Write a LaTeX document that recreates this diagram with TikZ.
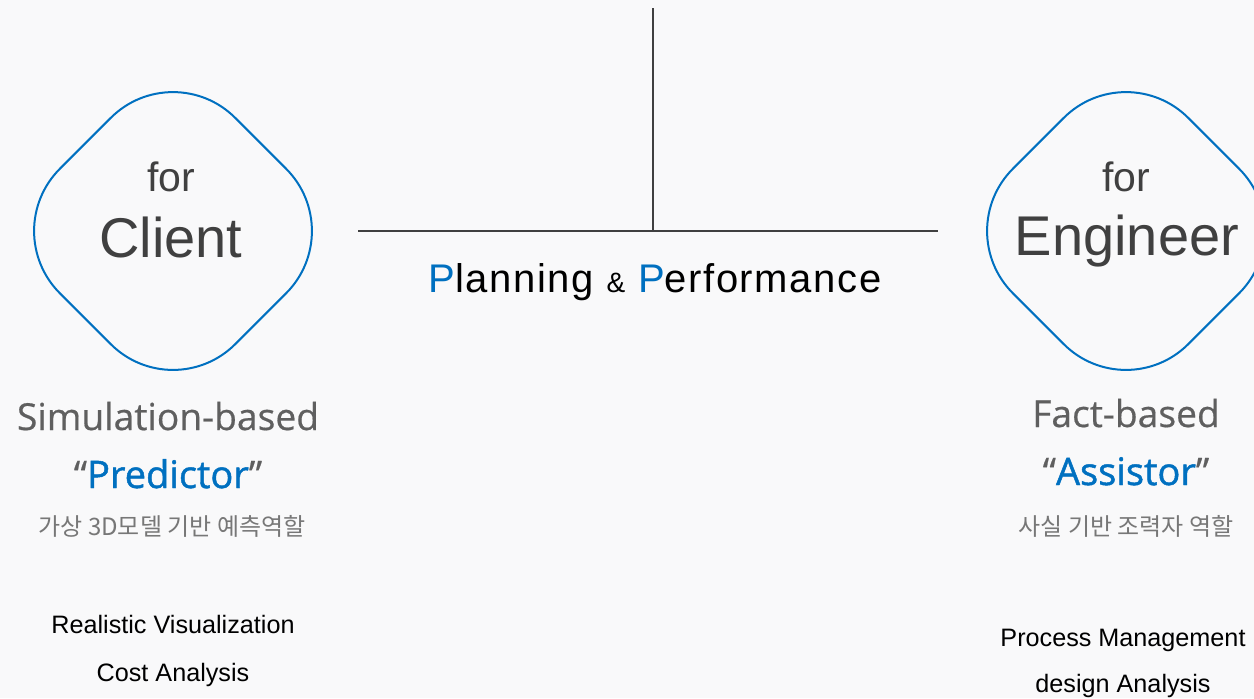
\documentclass[tikz,border=0pt]{standalone}
\usepackage{fontspec}
\setmainfont{Liberation Sans}
\newfontfamily\headfont[FakeBold=0.5]{Open Sans}
\newfontfamily\krfont{Noto Sans CJK KR}
\newfontfamily\spacedfont[LetterSpace=4]{Liberation Sans}
\usetikzlibrary{positioning}

\definecolor{ppblue}{HTML}{0070C0}
\definecolor{ppdark}{HTML}{404040}
\definecolor{ppgray}{HTML}{5F5F5F}
\definecolor{pplight}{HTML}{777777}
\definecolor{ppback}{HTML}{F9F9FA}

\tikzset{
  rolebox/.style={draw=ppblue, line width=1pt, rounded corners=44pt,
    minimum size=124pt, inner sep=0pt, rotate=45},
  txt/.style={inner sep=0pt, anchor=base},
  forlabel/.style={txt, text=ppdark, font=\fontsize{20.5}{24}\selectfont},
  rolelabel/.style={txt, text=ppdark, font=\fontsize{28}{32}\selectfont},
  basis/.style={txt, text=ppgray, font=\headfont\fontsize{18.6}{22}\selectfont},
  roleword/.style={txt, text=ppgray, font=\headfont\fontsize{19}{22}\selectfont},
  korean/.style={txt, text=pplight, font=\krfont\fontsize{12}{14}\selectfont},
  task/.style={txt, text=black, font=\fontsize{12.6}{15}\selectfont},
  rule/.style={draw=ppdark, line width=1pt},
}

\begin{document}
\begin{tikzpicture}[x=0.5pt, y=-0.5pt]
  \fill[ppback] (0,0) rectangle (1254,698);
  \useasboundingbox (0,0) rectangle (1254,698);

  % T-shaped divider
  \coordinate (vtop)   at (653,8);
  \coordinate (tjoin)  at (653,231);
  \coordinate (hleft)  at (358,231);
  \coordinate (hright) at (938,231);
  \draw[rule] (hleft) -- (hright);
  \draw[rule] (vtop) -- (tjoin);
  \node[txt, font=\spacedfont\fontsize{20}{24}\selectfont] (motto) at (655,292)
    {\textcolor{ppblue}{P}lanning {\fontsize{14}{16}\selectfont\&} \textcolor{ppblue}{P}erformance};

  % client side
  \node[rolebox] (clientbox) at (173,231) {};
  \node[forlabel]  (forc)   at (171,191) {for};
  \node[rolelabel] (client) at (171,257) {Client};
  \node[basis] (simbased) at (168,430) {Simulation-based};
  \node[roleword, below=29pt of simbased.base, anchor=base] (predictor)
    {“{\textcolor{ppblue}{\fontspec{Open Sans}[FakeBold=1.2]Predictor}}”};
  \node[korean, below=23.5pt of predictor.base, anchor=base, xshift=2pt] (krclient)
    {가상 3D모델 기반 예측역할};
  \node[task] (visual) at (173,633) {Realistic Visualization};
  \node[task, below=24pt of visual.base, anchor=base] (cost) {Cost Analysis};

  % engineer side
  \node[rolebox] (engbox) at (1126,231) {};
  \node[forlabel]  (fore)     at (1126,191) {for};
  \node[rolelabel] (engineer) at (1127,255) {Engineer};
  \node[basis] (factbased) at (1126,427) {Fact-based};
  \node[roleword, below=29pt of factbased.base, anchor=base] (assistor)
    {“{\textcolor{ppblue}{\fontspec{Open Sans}[FakeBold=1.2]Assistor}}”};
  \node[korean, below=25pt of assistor.base, anchor=base] (kreng)
    {사실 기반 조력자 역할};
  \node[task] (process) at (1123,646) {Process Management};
  \node[task, below=23pt of process.base, anchor=base] (design) {design Analysis};
\end{tikzpicture}
\end{document}
